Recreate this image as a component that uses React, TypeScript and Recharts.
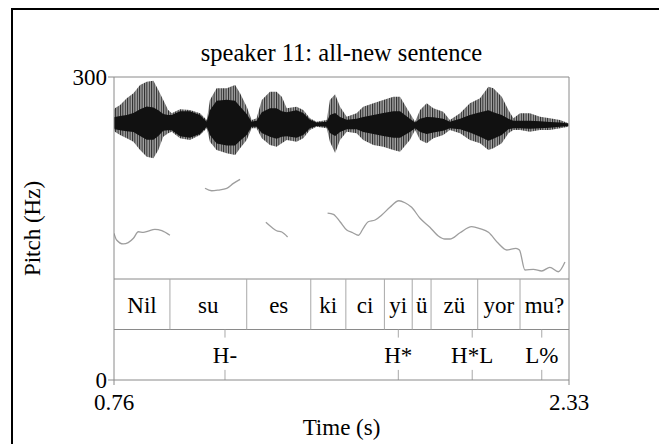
import { ComposedChart, Area, Line, Scatter, XAxis, YAxis, ReferenceLine } from "recharts"

const FONT = "'Liberation Serif', 'Times New Roman', serif"

const timeTicks = [0.76, 2.33]
const pitchTicks = [0, 300]

// waveform envelope (amplitude, 1 = top of the plot box)
const waveTimes = [
  0.76, 0.763, 0.781, 0.804, 0.827, 0.85, 0.873, 0.896, 0.913, 0.93, 0.947, 0.959, 0.988, 1.022, 1.057, 1.08,
  1.091, 1.114, 1.149, 1.178, 1.195, 1.218, 1.235, 1.252, 1.27, 1.298, 1.321, 1.339, 1.356, 1.39, 1.413, 1.436,
  1.459, 1.494, 1.505, 1.523, 1.54, 1.563, 1.597, 1.62, 1.655, 1.689, 1.724, 1.747, 1.781, 1.799, 1.816, 1.839,
  1.862, 1.896, 1.919, 1.954, 1.988, 2.023, 2.052, 2.069, 2.098, 2.121, 2.138, 2.161, 2.195, 2.23, 2.264, 2.299,
  2.328,
]
const waveTop = [
  0.305, 0.341, 0.411, 0.552, 0.657, 0.832, 0.901, 0.922, 0.726, 0.516, 0.305, 0.236, 0.32, 0.305, 0.236, 0.095,
  0.516, 0.762, 0.762, 0.832, 0.657, 0.375, 0.095, 0.131, 0.516, 0.691, 0.691, 0.585, 0.341, 0.375, 0.305, 0.131,
  0.059, 0.095, 0.516, 0.636, 0.375, 0.164, 0.236, 0.375, 0.446, 0.516, 0.585, 0.585, 0.236, 0.059, 0.305, 0.446,
  0.341, 0.269, 0.095, 0.236, 0.446, 0.552, 0.796, 0.762, 0.585, 0.305, 0.131, 0.236, 0.236, 0.164, 0.131, 0.095,
  0.025,
]
const waveBottom = [
  -0.116, -0.152, -0.221, -0.291, -0.362, -0.537, -0.678, -0.712, -0.537, -0.257, -0.185, -0.152, -0.291, -0.326,
  -0.221, -0.08, -0.362, -0.537, -0.606, -0.642, -0.501, -0.326, -0.08, -0.08, -0.291, -0.432, -0.467, -0.396,
  -0.326, -0.362, -0.291, -0.116, -0.046, -0.08, -0.362, -0.6, -0.326, -0.152, -0.185, -0.326, -0.432, -0.467,
  -0.537, -0.573, -0.326, -0.116, -0.326, -0.396, -0.291, -0.221, -0.116, -0.185, -0.326, -0.396, -0.537, -0.501,
  -0.396, -0.185, -0.116, -0.116, -0.152, -0.116, -0.116, -0.08, -0.046,
]
const coreTop = [
  0.15, 0.16, 0.18, 0.2, 0.24, 0.32, 0.38, 0.36, 0.3, 0.22, 0.2, 0.2, 0.28, 0.28, 0.2, 0.06, 0.3, 0.5, 0.52, 0.5,
  0.38, 0.22, 0.06, 0.08, 0.26, 0.34, 0.34, 0.28, 0.26, 0.3, 0.24, 0.1, 0.04, 0.06, 0.2, 0.24, 0.16, 0.1, 0.12,
  0.16, 0.2, 0.24, 0.28, 0.28, 0.12, 0.04, 0.12, 0.16, 0.15, 0.12, 0.06, 0.12, 0.2, 0.26, 0.3, 0.26, 0.2, 0.12,
  0.08, 0.08, 0.08, 0.07, 0.05, 0.04, 0.02,
]
const coreBottom = [
  -0.08, -0.1, -0.12, -0.14, -0.16, -0.24, -0.32, -0.32, -0.24, -0.13, -0.12, -0.12, -0.25, -0.28, -0.2, -0.05,
  -0.22, -0.4, -0.44, -0.44, -0.34, -0.22, -0.05, -0.05, -0.18, -0.26, -0.3, -0.26, -0.25, -0.28, -0.22, -0.08,
  -0.03, -0.05, -0.18, -0.24, -0.16, -0.1, -0.1, -0.16, -0.2, -0.24, -0.28, -0.28, -0.16, -0.08, -0.16, -0.2,
  -0.17, -0.13, -0.08, -0.1, -0.17, -0.26, -0.34, -0.3, -0.22, -0.1, -0.08, -0.08, -0.09, -0.08, -0.07, -0.05,
  -0.03,
]

// pitch track, one list per voiced stretch
const pitchTimes = [
  [0.76, 0.769, 0.792, 0.809, 0.827, 0.844, 0.861, 0.878, 0.901, 0.925, 0.953],
  [1.074, 1.097, 1.12, 1.149, 1.172, 1.195],
  [1.284, 1.304, 1.321, 1.339, 1.359],
  [
    1.497, 1.517, 1.54, 1.563, 1.584, 1.603, 1.62, 1.637, 1.661, 1.684, 1.712, 1.743, 1.764, 1.787, 1.816, 1.85,
    1.879, 1.902, 1.919, 1.954, 1.994, 2.023, 2.052, 2.086, 2.115, 2.147, 2.159, 2.178, 2.207, 2.236, 2.264, 2.293,
    2.316,
  ],
]
const pitchHz = [
  [145.2, 138.6, 134.7, 136, 140.3, 146.8, 146.2, 147.5, 149.2, 147.8, 143.3],
  [189.8, 187.4, 188.1, 189.8, 194.7, 198.7],
  [156.1, 151.2, 147.8, 146.5, 141.6],
  [
    165.3, 164, 156.7, 148.5, 145.8, 143.3, 150.2, 156.7, 158.4, 163.4, 171, 177.5, 175.5, 171, 160.1, 151.2, 142.6,
    139.6, 139.6, 145.8, 151.8, 149.8, 146.2, 135.3, 128.7, 130.4, 128.7, 108.9, 109.6, 107.9, 111.6, 107.2, 116.8,
  ],
]

// text grid
const syllables = ["Nil", "su", "es", "ki", "ci", "yi", "ü", "zü", "yor", "mu?"]
const syllableBounds = [0.76, 0.953, 1.218, 1.439, 1.56, 1.693, 1.789, 1.854, 2.015, 2.161, 2.33]
const tones = ["H-", "H*", "H*L", "L%"]
const toneTimes = [1.143, 1.741, 1.996, 2.236]

const TIER1_TOP = 100
const TIER_SPLIT = 50

const waveData = waveTimes.map((t, i) => ({
  t,
  outer: [waveBottom[i], waveTop[i]],
  core: [coreBottom[i], coreTop[i]],
}))
const pitchSegments = pitchTimes.map((ts, s) => ts.map((t, i) => ({ t, hz: pitchHz[s][i] })))
const syllableData = syllables.map((label, i) => ({
  t: (syllableBounds[i] + syllableBounds[i + 1]) / 2,
  y: (TIER1_TOP + TIER_SPLIT) / 2,
  label,
}))
const toneData = tones.map((label, i) => ({ t: toneTimes[i], y: TIER_SPLIT / 2, label }))

const AXIS = "#8a8a8a"
const GRID = "#a8a8a8"

const TextMark = (p: any) => (
  <text x={p.cx} y={p.cy} dy="0.38em" textAnchor="middle" fontSize={23} fontFamily={FONT} fill="#000">
    {p.payload.label}
  </text>
)

export default function App() {
  return (
    <div
      style={{
        position: "absolute",
        left: 0,
        top: 0,
        width: 659,
        height: 444,
        overflow: "hidden",
        background: "#fff",
      }}
    >
      <div
        style={{
          position: "absolute",
          left: 11,
          top: 8,
          width: 700,
          height: 500,
          borderTop: "2px solid #000",
          borderLeft: "2px solid #000",
        }}
      />
      <div
        style={{
          position: "absolute",
          left: 114,
          width: 455,
          top: 41,
          textAlign: "center",
          fontFamily: FONT,
          fontSize: 24.5,
          lineHeight: "24px",
          color: "#000",
        }}
      >
        speaker 11: all-new sentence
      </div>
      <ComposedChart width={659} height={444} margin={{ top: 77, right: 90, bottom: 0, left: 0 }} style={{ position: "absolute", left: 0, top: 0 }}>
        <defs>
          <pattern id="pulses" width="2.4" height="4" patternUnits="userSpaceOnUse">
            <rect width="2.4" height="4" fill="#a6a6a6" />
            <rect width="1" height="4" fill="#262626" />
          </pattern>
        </defs>
        <XAxis
          xAxisId="t"
          dataKey="t"
          type="number"
          domain={[0.76, 2.33]}
          ticks={timeTicks}
          interval={0}
          allowDataOverflow
          height={64}
          stroke={AXIS}
          tickSize={5}
          tickMargin={9}
          tickFormatter={(v: number) => v.toFixed(2)}
          tick={{ fill: "#000", fontSize: 23, fontFamily: FONT }}
          label={{ value: "Time (s)", position: "insideBottom", offset: 9, fill: "#000", fontSize: 23, fontFamily: FONT }}
        />
        <YAxis
          yAxisId="hz"
          type="number"
          domain={[0, 300]}
          ticks={pitchTicks}
          interval={0}
          allowDataOverflow
          width={114}
          stroke={AXIS}
          tickSize={6}
          tickMargin={1}
          tick={{ fill: "#000", fontSize: 23, fontFamily: FONT }}
          label={{
            value: "Pitch (Hz)",
            angle: -90,
            position: "insideLeft",
            offset: 32,
            fill: "#000",
            fontSize: 23,
            fontFamily: FONT,
            style: { textAnchor: "middle" },
          }}
        />
        <YAxis yAxisId="wave" type="number" domain={[-5.38, 1]} allowDataOverflow hide />

        <Area
          xAxisId="t"
          yAxisId="wave"
          data={waveData}
          dataKey="outer"
          type="linear"
          stroke="none"
          fill="url(#pulses)"
          fillOpacity={1}
          isAnimationActive={false}
        />
        <Area
          xAxisId="t"
          yAxisId="wave"
          data={waveData}
          dataKey="core"
          type="linear"
          stroke="none"
          fill="#111"
          fillOpacity={1}
          isAnimationActive={false}
        />

        {pitchSegments.map((seg, i) => (
          <Line
            key={`pitch-${i}`}
            xAxisId="t"
            yAxisId="hz"
            data={seg}
            dataKey="hz"
            type="monotone"
            stroke="#9e9e9e"
            strokeWidth={1.3}
            dot={false}
            isAnimationActive={false}
          />
        ))}

        <ReferenceLine xAxisId="t" yAxisId="hz" y={300} stroke={AXIS} ifOverflow="visible" />
        <ReferenceLine xAxisId="t" yAxisId="hz" x={2.33} stroke={AXIS} ifOverflow="visible" />
        <ReferenceLine xAxisId="t" yAxisId="hz" y={TIER1_TOP} stroke={AXIS} />
        <ReferenceLine xAxisId="t" yAxisId="hz" y={TIER_SPLIT} stroke={AXIS} />
        {syllableBounds.slice(1, -1).map((t) => (
          <ReferenceLine
            key={`b-${t}`}
            xAxisId="t"
            yAxisId="hz"
            segment={[
              { x: t, y: TIER_SPLIT },
              { x: t, y: TIER1_TOP },
            ]}
            stroke={GRID}
          />
        ))}
        {toneTimes.map((t) => (
          <ReferenceLine
            key={`pt-${t}`}
            xAxisId="t"
            yAxisId="hz"
            segment={[
              { x: t, y: TIER_SPLIT },
              { x: t, y: TIER_SPLIT - 8 },
            ]}
            stroke={GRID}
          />
        ))}
        {toneTimes.map((t) => (
          <ReferenceLine
            key={`pb-${t}`}
            xAxisId="t"
            yAxisId="hz"
            segment={[
              { x: t, y: 10 },
              { x: t, y: 0 },
            ]}
            stroke={GRID}
          />
        ))}

        <Scatter xAxisId="t" yAxisId="hz" data={syllableData} dataKey="y" shape={TextMark} isAnimationActive={false} />
        <Scatter xAxisId="t" yAxisId="hz" data={toneData} dataKey="y" shape={TextMark} isAnimationActive={false} />
      </ComposedChart>
    </div>
  )
}
